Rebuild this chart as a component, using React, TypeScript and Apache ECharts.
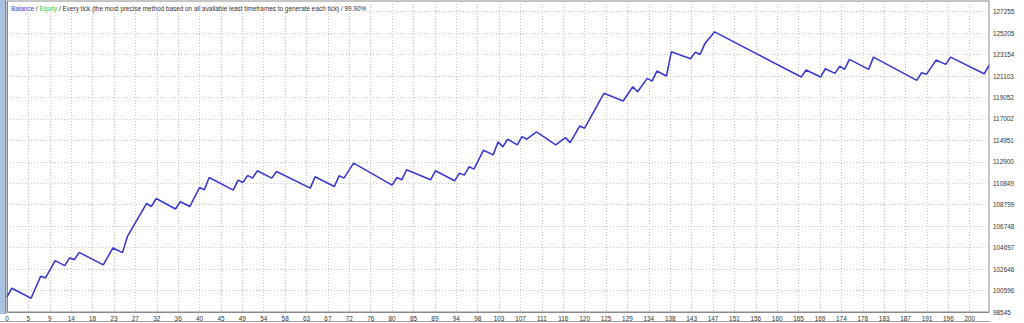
import React, { useEffect, useRef } from "react";
import * as echarts from "echarts";

// Trade number of each turning point of the balance curve
const TRADES = [0,1,5,7,8,10,12,13,14,15,20,22,24,25,29,30,31,35,36,38,40,41,42,47,48,49,50,51,52,55,56,63,64,68,69,70,72,80,81,82,83,88,89,93,94,95,96,97,99,101,102,103,104,106,107,108,110,114,116,117,119,120,124,128,130,131,133,134,135,137,138,142,143,144,145,147,165,166,169,170,172,173,174,175,177,179,180,189,190,191,193,195,196,203,204];
// Balance at each of those trades
const BALANCE = [100000,100815,99861,101960,101807,103457,102980,103715,103552,104249,103047,104668,104220,105746,108922,108636,109399,108388,109085,108636,110448,110229,111402,110200,111154,110925,111612,111345,112041,111345,111975,110391,111469,110544,111564,111345,112776,110677,111402,111183,112137,111183,112041,111087,111822,111631,112423,112203,114016,113567,114807,114330,115065,114521,115313,115065,115761,114521,115217,114741,116333,116114,119452,118718,120082,119605,120883,120625,121579,121102,123420,122752,123391,123172,124221,125328,121007,121675,121007,121799,121360,122056,121741,122695,122218,121741,122915,120692,121417,121265,122628,122218,122915,121322,122123];

// Axis tick labels
const Y_TICKS = [98545,100596,102646,104697,106748,108799,110849,112900,114951,117002,119052,121103,123154,125205,127255];
const X_TICK_LABELS = ["0","5","9","14","18","23","27","32","36","40","45","49","54","58","63","67","72","76","80","85","89","94","98","103","107","111","116","120","125","129","134","138","143","147","151","156","160","165","169","174","178","183","187","191","196","200"];
const X_LAST_LABEL = 200;

const TITLE_PARTS = ["Balance", "Equity", "Every tick (the most precise method based on all available least timeframes to generate each tick)", "99.90%"];

export default function App() {
  const ref = useRef<HTMLDivElement>(null);
  useEffect(() => {
    if (!ref.current) return;
    const chart = echarts.init(ref.current, null, { renderer: "svg" });
    const step = X_LAST_LABEL / (X_TICK_LABELS.length - 1);
    const xPos = X_TICK_LABELS.map((_, i) => i * step);
    const font = "'Liberation Sans', Arial, sans-serif";
    const fs = 6.4;
    const gridLine = { show: true, lineStyle: { color: "#c8c8c8", type: [1, 2] as any, width: 1 } };
    chart.setOption({
      animation: false,
      backgroundColor: "#ffffff",
      title: {
        text: `{b|${TITLE_PARTS[0]}} / {g|${TITLE_PARTS[1]}} / ${TITLE_PARTS[2]} / ${TITLE_PARTS[3]}`,
        left: 9,
        top: 4,
        padding: [1, 2, 1, 2],
        backgroundColor: "#ffffff",
        textStyle: {
          fontSize: fs,
          fontWeight: "normal",
          fontFamily: font,
          color: "#333333",
          rich: {
            b: { fontSize: fs, fontFamily: font, color: "#3b3bd8" },
            g: { fontSize: fs, fontFamily: font, color: "#33cc33" },
          },
        },
      },
      grid: {
        left: 7,
        right: 35,
        top: 1,
        bottom: 11,
        show: true,
        borderColor: "#8a8a8a",
        borderWidth: 1,
        outerBoundsMode: "none",
      } as any,
      xAxis: {
        type: "value",
        min: 0,
        max: TRADES[TRADES.length - 1],
        axisLine: { show: true, lineStyle: { color: "#8a8a8a" } },
        axisTick: { show: false, customValues: xPos } as any,
        splitLine: gridLine,
        axisLabel: {
          customValues: xPos,
          margin: 3,
          fontSize: fs,
          fontFamily: font,
          color: "#333333",
          showMinLabel: true,
          showMaxLabel: true,
          hideOverlap: false,
          formatter: (v: number) => {
            const i = Math.round(v / step);
            return X_TICK_LABELS[i] ?? "";
          },
        } as any,
      },
      yAxis: {
        type: "value",
        position: "right",
        min: Y_TICKS[0],
        max: 128278,
        axisLine: { show: true, lineStyle: { color: "#8a8a8a" } },
        axisTick: { show: false, customValues: Y_TICKS } as any,
        splitLine: gridLine,
        axisLabel: {
          customValues: Y_TICKS,
          margin: 4,
          fontSize: fs,
          fontFamily: font,
          color: "#333333",
          hideOverlap: false,
          formatter: (v: number) => String(Math.round(v)),
        } as any,
      },
      graphic: [
        { type: "rect", left: 0, top: 0, shape: { width: 5, height: 314 }, style: { fill: "#a9c2df" }, silent: true },
        { type: "line", shape: { x1: 5.5, y1: 0, x2: 5.5, y2: 314 }, style: { stroke: "#6f8db3", lineWidth: 1 }, silent: true },
        { type: "line", shape: { x1: 0, y1: 321.5, x2: 990, y2: 321.5 }, style: { stroke: "#a0a0a0", lineWidth: 1 }, silent: true },
      ],
      series: [
        {
          type: "line",
          data: TRADES.map((t, i) => [t, BALANCE[i]]),
          showSymbol: false,
          symbol: "none",
          lineStyle: { color: "#3a3ad0", width: 1.6 },
          z: 5,
        },
      ],
    });
    return () => chart.dispose();
  }, []);
  return (
    <div
      ref={ref}
      style={{ position: "fixed", left: 0, top: 0, width: 1024, height: 323, background: "#fff" }}
    />
  );
}
